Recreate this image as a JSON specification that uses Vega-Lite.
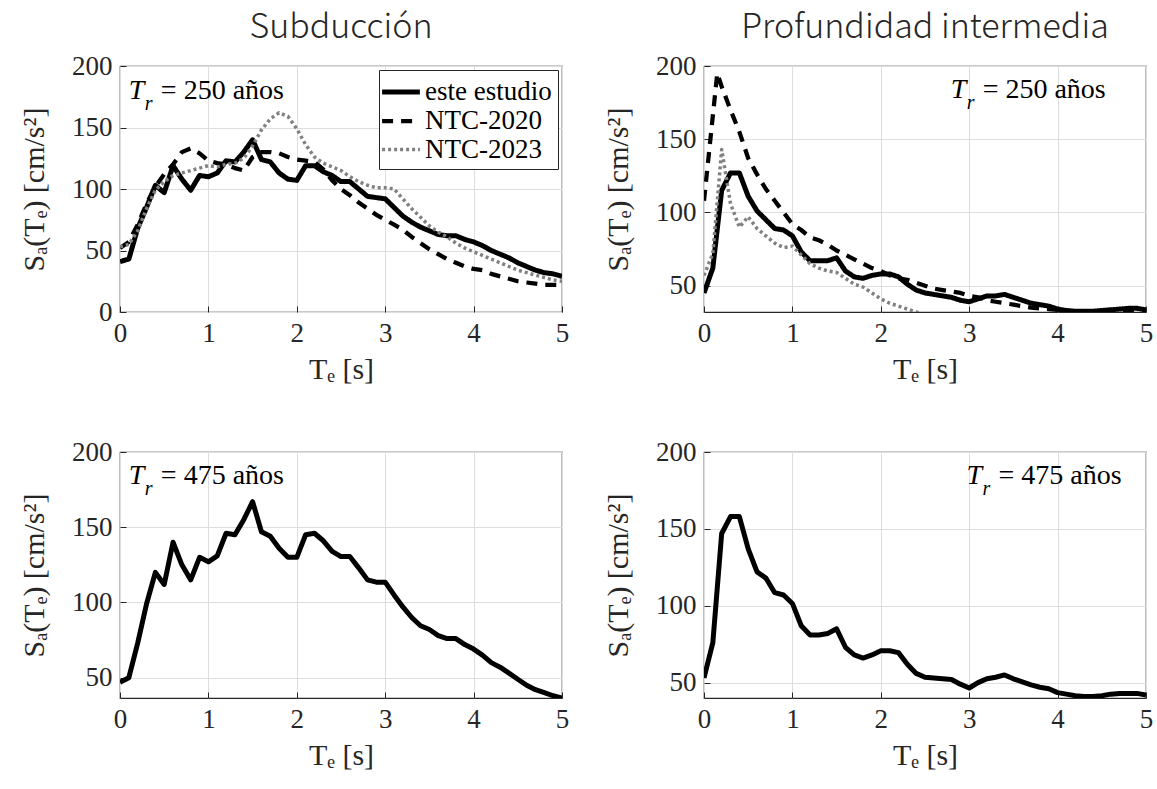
{
"$schema": "https://vega.github.io/schema/vega-lite/v6.json",
"background": "white",
"autosize": {"type": "pad"},
"padding": {"left": 18, "top": 10, "right": 5, "bottom": 5},
"columns": 2,
"spacing": {"row": 140, "column": 142},
"bounds": "flush",
"config": {
  "view": {"stroke": "#262626", "strokeWidth": 1.2},
  "axis": {
    "labelFont": "Liberation Serif", "labelFontSize": 27, "labelColor": "#262626",
    "titleFont": "Liberation Serif", "titleFontSize": 30, "titleColor": "#262626", "titleFontWeight": "normal",
    "grid": true, "gridColor": "#dedede", "gridWidth": 1,
    "domain": false, "ticks": true, "tickSize": -6, "tickColor": "#262626",
    "labelFlush": false, "labelOverlap": false
  },
  "axisX": {"labelPadding": 14, "titlePadding": 8},
  "axisY": {"labelPadding": 14, "titlePadding": 22},
  "title": {"font": "Noto Sans CJK JP", "fontSize": 34, "fontWeight": 300, "color": "#262626", "offset": 7}
},
"resolve": {
  "scale": {"color": "independent", "strokeDash": "independent", "strokeWidth": "independent"},
  "legend": {"color": "independent", "strokeDash": "independent", "strokeWidth": "independent"}
},
"datasets": {
  "notes": [
    {"panel": "sub250", "T": 0.1, "Sa": 173, "sym": "T", "sub": "r", "rest": "= 250 años"},
    {"panel": "int250", "T": 2.79, "Sa": 178, "sym": "T", "sub": "r", "rest": "= 250 años"},
    {"panel": "sub475", "T": 0.1, "Sa": 179, "sym": "T", "sub": "r", "rest": "= 475 años"},
    {"panel": "int475", "T": 2.97, "Sa": 179, "sym": "T", "sub": "r", "rest": "= 475 años"}
  ],
  "sub250": [
    {"serie":"este estudio","T":0,"Sa":41},{"serie":"este estudio","T":0.1,"Sa":43},{"serie":"este estudio","T":0.2,"Sa":68},{"serie":"este estudio","T":0.3,"Sa":85},{"serie":"este estudio","T":0.4,"Sa":103},{"serie":"este estudio","T":0.5,"Sa":97},{"serie":"este estudio","T":0.6,"Sa":119},{"serie":"este estudio","T":0.7,"Sa":108},{"serie":"este estudio","T":0.8,"Sa":99},{"serie":"este estudio","T":0.9,"Sa":111},
    {"serie":"este estudio","T":1.0,"Sa":110},{"serie":"este estudio","T":1.1,"Sa":113},{"serie":"este estudio","T":1.2,"Sa":123},{"serie":"este estudio","T":1.3,"Sa":122},{"serie":"este estudio","T":1.4,"Sa":130},{"serie":"este estudio","T":1.5,"Sa":140},{"serie":"este estudio","T":1.6,"Sa":124},{"serie":"este estudio","T":1.7,"Sa":122},{"serie":"este estudio","T":1.8,"Sa":113},{"serie":"este estudio","T":1.9,"Sa":108},
    {"serie":"este estudio","T":2.0,"Sa":107},{"serie":"este estudio","T":2.1,"Sa":119},{"serie":"este estudio","T":2.2,"Sa":119},{"serie":"este estudio","T":2.3,"Sa":114},{"serie":"este estudio","T":2.4,"Sa":111},{"serie":"este estudio","T":2.5,"Sa":106},{"serie":"este estudio","T":2.6,"Sa":106},{"serie":"este estudio","T":2.7,"Sa":100},{"serie":"este estudio","T":2.8,"Sa":94},{"serie":"este estudio","T":2.9,"Sa":93},
    {"serie":"este estudio","T":3.0,"Sa":92},{"serie":"este estudio","T":3.1,"Sa":85},{"serie":"este estudio","T":3.2,"Sa":78},{"serie":"este estudio","T":3.3,"Sa":73},{"serie":"este estudio","T":3.4,"Sa":69},{"serie":"este estudio","T":3.5,"Sa":66},{"serie":"este estudio","T":3.6,"Sa":63},{"serie":"este estudio","T":3.7,"Sa":62},{"serie":"este estudio","T":3.8,"Sa":62},{"serie":"este estudio","T":3.9,"Sa":59},
    {"serie":"este estudio","T":4.0,"Sa":57},{"serie":"este estudio","T":4.1,"Sa":54},{"serie":"este estudio","T":4.2,"Sa":50},{"serie":"este estudio","T":4.3,"Sa":47},{"serie":"este estudio","T":4.4,"Sa":44},{"serie":"este estudio","T":4.5,"Sa":40},{"serie":"este estudio","T":4.6,"Sa":37},{"serie":"este estudio","T":4.7,"Sa":34},{"serie":"este estudio","T":4.8,"Sa":32},{"serie":"este estudio","T":4.9,"Sa":31},{"serie":"este estudio","T":5.0,"Sa":29},
    {"serie":"NTC-2020","T":0,"Sa":52},{"serie":"NTC-2020","T":0.1,"Sa":57},{"serie":"NTC-2020","T":0.2,"Sa":71},{"serie":"NTC-2020","T":0.3,"Sa":88},{"serie":"NTC-2020","T":0.4,"Sa":102},{"serie":"NTC-2020","T":0.5,"Sa":112},{"serie":"NTC-2020","T":0.6,"Sa":120},{"serie":"NTC-2020","T":0.7,"Sa":130},{"serie":"NTC-2020","T":0.8,"Sa":133},{"serie":"NTC-2020","T":0.9,"Sa":129},
    {"serie":"NTC-2020","T":1.0,"Sa":123},{"serie":"NTC-2020","T":1.1,"Sa":121},{"serie":"NTC-2020","T":1.2,"Sa":120},{"serie":"NTC-2020","T":1.3,"Sa":117},{"serie":"NTC-2020","T":1.4,"Sa":115},{"serie":"NTC-2020","T":1.5,"Sa":126},{"serie":"NTC-2020","T":1.6,"Sa":130},{"serie":"NTC-2020","T":1.7,"Sa":130},{"serie":"NTC-2020","T":1.8,"Sa":129},{"serie":"NTC-2020","T":1.9,"Sa":126},
    {"serie":"NTC-2020","T":2.0,"Sa":124},{"serie":"NTC-2020","T":2.1,"Sa":123},{"serie":"NTC-2020","T":2.2,"Sa":122},{"serie":"NTC-2020","T":2.3,"Sa":116},{"serie":"NTC-2020","T":2.4,"Sa":107},{"serie":"NTC-2020","T":2.5,"Sa":100},{"serie":"NTC-2020","T":2.6,"Sa":95},{"serie":"NTC-2020","T":2.7,"Sa":89},{"serie":"NTC-2020","T":2.8,"Sa":84},{"serie":"NTC-2020","T":2.9,"Sa":79},
    {"serie":"NTC-2020","T":3.0,"Sa":75},{"serie":"NTC-2020","T":3.1,"Sa":71},{"serie":"NTC-2020","T":3.2,"Sa":67},{"serie":"NTC-2020","T":3.3,"Sa":61},{"serie":"NTC-2020","T":3.4,"Sa":56},{"serie":"NTC-2020","T":3.5,"Sa":51},{"serie":"NTC-2020","T":3.6,"Sa":47},{"serie":"NTC-2020","T":3.7,"Sa":43},{"serie":"NTC-2020","T":3.8,"Sa":40},{"serie":"NTC-2020","T":3.9,"Sa":37},
    {"serie":"NTC-2020","T":4.0,"Sa":35},{"serie":"NTC-2020","T":4.1,"Sa":34},{"serie":"NTC-2020","T":4.2,"Sa":31},{"serie":"NTC-2020","T":4.3,"Sa":29},{"serie":"NTC-2020","T":4.4,"Sa":27},{"serie":"NTC-2020","T":4.5,"Sa":25},{"serie":"NTC-2020","T":4.6,"Sa":24},{"serie":"NTC-2020","T":4.7,"Sa":23},{"serie":"NTC-2020","T":4.8,"Sa":22},{"serie":"NTC-2020","T":4.9,"Sa":22},{"serie":"NTC-2020","T":5.0,"Sa":22},
    {"serie":"NTC-2023","T":0,"Sa":53},{"serie":"NTC-2023","T":0.1,"Sa":55},{"serie":"NTC-2023","T":0.2,"Sa":66},{"serie":"NTC-2023","T":0.3,"Sa":84},{"serie":"NTC-2023","T":0.4,"Sa":99},{"serie":"NTC-2023","T":0.5,"Sa":106},{"serie":"NTC-2023","T":0.6,"Sa":111},{"serie":"NTC-2023","T":0.7,"Sa":113},{"serie":"NTC-2023","T":0.8,"Sa":115},{"serie":"NTC-2023","T":0.9,"Sa":117},
    {"serie":"NTC-2023","T":1.0,"Sa":119},{"serie":"NTC-2023","T":1.1,"Sa":118},{"serie":"NTC-2023","T":1.2,"Sa":120},{"serie":"NTC-2023","T":1.3,"Sa":121},{"serie":"NTC-2023","T":1.4,"Sa":125},{"serie":"NTC-2023","T":1.5,"Sa":135},{"serie":"NTC-2023","T":1.6,"Sa":148},{"serie":"NTC-2023","T":1.7,"Sa":157},{"serie":"NTC-2023","T":1.8,"Sa":162},{"serie":"NTC-2023","T":1.9,"Sa":159},
    {"serie":"NTC-2023","T":2.0,"Sa":149},{"serie":"NTC-2023","T":2.1,"Sa":136},{"serie":"NTC-2023","T":2.2,"Sa":126},{"serie":"NTC-2023","T":2.3,"Sa":121},{"serie":"NTC-2023","T":2.4,"Sa":118},{"serie":"NTC-2023","T":2.5,"Sa":115},{"serie":"NTC-2023","T":2.6,"Sa":110},{"serie":"NTC-2023","T":2.7,"Sa":106},{"serie":"NTC-2023","T":2.8,"Sa":103},{"serie":"NTC-2023","T":2.9,"Sa":101},
    {"serie":"NTC-2023","T":3.0,"Sa":101},{"serie":"NTC-2023","T":3.1,"Sa":100},{"serie":"NTC-2023","T":3.2,"Sa":92},{"serie":"NTC-2023","T":3.3,"Sa":84},{"serie":"NTC-2023","T":3.4,"Sa":77},{"serie":"NTC-2023","T":3.5,"Sa":70},{"serie":"NTC-2023","T":3.6,"Sa":65},{"serie":"NTC-2023","T":3.7,"Sa":61},{"serie":"NTC-2023","T":3.8,"Sa":56},{"serie":"NTC-2023","T":3.9,"Sa":52},
    {"serie":"NTC-2023","T":4.0,"Sa":49},{"serie":"NTC-2023","T":4.1,"Sa":46},{"serie":"NTC-2023","T":4.2,"Sa":43},{"serie":"NTC-2023","T":4.3,"Sa":40},{"serie":"NTC-2023","T":4.4,"Sa":37},{"serie":"NTC-2023","T":4.5,"Sa":34},{"serie":"NTC-2023","T":4.6,"Sa":32},{"serie":"NTC-2023","T":4.7,"Sa":30},{"serie":"NTC-2023","T":4.8,"Sa":28},{"serie":"NTC-2023","T":4.9,"Sa":26},{"serie":"NTC-2023","T":5.0,"Sa":25}
  ],
  "int250": [
    {"serie":"este estudio","T":0,"Sa":45},{"serie":"este estudio","T":0.1,"Sa":62},{"serie":"este estudio","T":0.2,"Sa":115},{"serie":"este estudio","T":0.3,"Sa":127},{"serie":"este estudio","T":0.4,"Sa":127},{"serie":"este estudio","T":0.5,"Sa":111},{"serie":"este estudio","T":0.6,"Sa":101},{"serie":"este estudio","T":0.7,"Sa":95},{"serie":"este estudio","T":0.8,"Sa":89},{"serie":"este estudio","T":0.9,"Sa":88},
    {"serie":"este estudio","T":1.0,"Sa":84},{"serie":"este estudio","T":1.1,"Sa":73},{"serie":"este estudio","T":1.2,"Sa":67},{"serie":"este estudio","T":1.3,"Sa":67},{"serie":"este estudio","T":1.4,"Sa":67},{"serie":"este estudio","T":1.5,"Sa":69},{"serie":"este estudio","T":1.6,"Sa":60},{"serie":"este estudio","T":1.7,"Sa":56},{"serie":"este estudio","T":1.8,"Sa":55},{"serie":"este estudio","T":1.9,"Sa":57},
    {"serie":"este estudio","T":2.0,"Sa":58},{"serie":"este estudio","T":2.1,"Sa":58},{"serie":"este estudio","T":2.2,"Sa":56},{"serie":"este estudio","T":2.3,"Sa":51},{"serie":"este estudio","T":2.4,"Sa":47},{"serie":"este estudio","T":2.5,"Sa":45},{"serie":"este estudio","T":2.6,"Sa":44},{"serie":"este estudio","T":2.7,"Sa":43},{"serie":"este estudio","T":2.8,"Sa":42},{"serie":"este estudio","T":2.9,"Sa":40},
    {"serie":"este estudio","T":3.0,"Sa":39},{"serie":"este estudio","T":3.1,"Sa":41},{"serie":"este estudio","T":3.2,"Sa":43},{"serie":"este estudio","T":3.3,"Sa":43},{"serie":"este estudio","T":3.4,"Sa":44},{"serie":"este estudio","T":3.5,"Sa":42},{"serie":"este estudio","T":3.6,"Sa":40},{"serie":"este estudio","T":3.7,"Sa":38},{"serie":"este estudio","T":3.8,"Sa":37},{"serie":"este estudio","T":3.9,"Sa":36},
    {"serie":"este estudio","T":4.0,"Sa":34},{"serie":"este estudio","T":4.1,"Sa":33},{"serie":"este estudio","T":4.2,"Sa":32.5},{"serie":"este estudio","T":4.3,"Sa":32.5},{"serie":"este estudio","T":4.4,"Sa":32.5},{"serie":"este estudio","T":4.5,"Sa":33},{"serie":"este estudio","T":4.6,"Sa":33.5},{"serie":"este estudio","T":4.7,"Sa":34},{"serie":"este estudio","T":4.8,"Sa":34.5},{"serie":"este estudio","T":4.9,"Sa":34.5},{"serie":"este estudio","T":5.0,"Sa":33.5},
    {"serie":"NTC-2020","T":0,"Sa":108},{"serie":"NTC-2020","T":0.1,"Sa":166},{"serie":"NTC-2020","T":0.15,"Sa":195},{"serie":"NTC-2020","T":0.2,"Sa":186},{"serie":"NTC-2020","T":0.3,"Sa":170},{"serie":"NTC-2020","T":0.4,"Sa":155},{"serie":"NTC-2020","T":0.5,"Sa":137},{"serie":"NTC-2020","T":0.6,"Sa":126},{"serie":"NTC-2020","T":0.7,"Sa":116},{"serie":"NTC-2020","T":0.8,"Sa":108},{"serie":"NTC-2020","T":0.9,"Sa":100},
    {"serie":"NTC-2020","T":1.0,"Sa":92},{"serie":"NTC-2020","T":1.1,"Sa":88},{"serie":"NTC-2020","T":1.2,"Sa":83},{"serie":"NTC-2020","T":1.3,"Sa":81},{"serie":"NTC-2020","T":1.4,"Sa":78},{"serie":"NTC-2020","T":1.5,"Sa":74},{"serie":"NTC-2020","T":1.6,"Sa":71},{"serie":"NTC-2020","T":1.7,"Sa":68},{"serie":"NTC-2020","T":1.8,"Sa":65},{"serie":"NTC-2020","T":1.9,"Sa":62},
    {"serie":"NTC-2020","T":2.0,"Sa":60},{"serie":"NTC-2020","T":2.1,"Sa":57},{"serie":"NTC-2020","T":2.2,"Sa":55},{"serie":"NTC-2020","T":2.3,"Sa":54},{"serie":"NTC-2020","T":2.4,"Sa":52},{"serie":"NTC-2020","T":2.5,"Sa":50},{"serie":"NTC-2020","T":2.6,"Sa":48},{"serie":"NTC-2020","T":2.7,"Sa":47},{"serie":"NTC-2020","T":2.8,"Sa":46},{"serie":"NTC-2020","T":2.9,"Sa":45},
    {"serie":"NTC-2020","T":3.0,"Sa":43},{"serie":"NTC-2020","T":3.1,"Sa":42},{"serie":"NTC-2020","T":3.2,"Sa":40},{"serie":"NTC-2020","T":3.3,"Sa":39},{"serie":"NTC-2020","T":3.4,"Sa":38},{"serie":"NTC-2020","T":3.5,"Sa":37},{"serie":"NTC-2020","T":3.6,"Sa":36},{"serie":"NTC-2020","T":3.7,"Sa":35},{"serie":"NTC-2020","T":3.8,"Sa":34.5},{"serie":"NTC-2020","T":3.9,"Sa":34},
    {"serie":"NTC-2020","T":4.0,"Sa":33.5},{"serie":"NTC-2020","T":4.1,"Sa":33},{"serie":"NTC-2020","T":4.2,"Sa":32.5},{"serie":"NTC-2020","T":4.3,"Sa":32},{"serie":"NTC-2020","T":4.4,"Sa":32},{"serie":"NTC-2020","T":4.5,"Sa":32},{"serie":"NTC-2020","T":4.6,"Sa":32},{"serie":"NTC-2020","T":4.7,"Sa":32},{"serie":"NTC-2020","T":4.8,"Sa":32},{"serie":"NTC-2020","T":4.9,"Sa":32},{"serie":"NTC-2020","T":5.0,"Sa":32},
    {"serie":"NTC-2023","T":0,"Sa":57},{"serie":"NTC-2023","T":0.1,"Sa":72},{"serie":"NTC-2023","T":0.2,"Sa":143},{"serie":"NTC-2023","T":0.3,"Sa":106},{"serie":"NTC-2023","T":0.4,"Sa":90},{"serie":"NTC-2023","T":0.5,"Sa":97},{"serie":"NTC-2023","T":0.6,"Sa":89},{"serie":"NTC-2023","T":0.7,"Sa":84},{"serie":"NTC-2023","T":0.8,"Sa":79},{"serie":"NTC-2023","T":0.9,"Sa":76},
    {"serie":"NTC-2023","T":1.0,"Sa":77},{"serie":"NTC-2023","T":1.1,"Sa":71},{"serie":"NTC-2023","T":1.2,"Sa":65},{"serie":"NTC-2023","T":1.3,"Sa":62},{"serie":"NTC-2023","T":1.4,"Sa":60},{"serie":"NTC-2023","T":1.5,"Sa":59},{"serie":"NTC-2023","T":1.6,"Sa":55},{"serie":"NTC-2023","T":1.7,"Sa":51},{"serie":"NTC-2023","T":1.8,"Sa":49},{"serie":"NTC-2023","T":1.9,"Sa":45},
    {"serie":"NTC-2023","T":2.0,"Sa":41},{"serie":"NTC-2023","T":2.1,"Sa":38},{"serie":"NTC-2023","T":2.2,"Sa":36},{"serie":"NTC-2023","T":2.3,"Sa":34},{"serie":"NTC-2023","T":2.4,"Sa":32},{"serie":"NTC-2023","T":2.5,"Sa":30}
  ],
  "sub475": [
    {"T":0,"Sa":47},{"T":0.1,"Sa":50},{"T":0.2,"Sa":73},{"T":0.3,"Sa":99},{"T":0.4,"Sa":120},{"T":0.5,"Sa":112},{"T":0.6,"Sa":140},{"T":0.7,"Sa":125},{"T":0.8,"Sa":115},{"T":0.9,"Sa":130},
    {"T":1.0,"Sa":127},{"T":1.1,"Sa":131},{"T":1.2,"Sa":146},{"T":1.3,"Sa":145},{"T":1.4,"Sa":155},{"T":1.5,"Sa":167},{"T":1.6,"Sa":147},{"T":1.7,"Sa":144},{"T":1.8,"Sa":136},{"T":1.9,"Sa":130},
    {"T":2.0,"Sa":130},{"T":2.1,"Sa":145},{"T":2.2,"Sa":146},{"T":2.3,"Sa":141},{"T":2.4,"Sa":134},{"T":2.5,"Sa":130.5},{"T":2.6,"Sa":130.5},{"T":2.7,"Sa":123},{"T":2.8,"Sa":115},{"T":2.9,"Sa":113.5},
    {"T":3.0,"Sa":113.5},{"T":3.1,"Sa":105},{"T":3.2,"Sa":97},{"T":3.3,"Sa":90},{"T":3.4,"Sa":84.5},{"T":3.5,"Sa":82},{"T":3.6,"Sa":78},{"T":3.7,"Sa":76},{"T":3.8,"Sa":76},{"T":3.9,"Sa":72},
    {"T":4.0,"Sa":69},{"T":4.1,"Sa":65},{"T":4.2,"Sa":60},{"T":4.3,"Sa":57},{"T":4.4,"Sa":53},{"T":4.5,"Sa":49},{"T":4.6,"Sa":45},{"T":4.7,"Sa":42},{"T":4.8,"Sa":40},{"T":4.9,"Sa":38},{"T":5.0,"Sa":36.5}
  ],
  "int475": [
    {"T":0,"Sa":53},{"T":0.1,"Sa":76},{"T":0.2,"Sa":147},{"T":0.3,"Sa":158},{"T":0.4,"Sa":158},{"T":0.5,"Sa":137},{"T":0.6,"Sa":122},{"T":0.7,"Sa":118},{"T":0.8,"Sa":108.5},{"T":0.9,"Sa":107},
    {"T":1.0,"Sa":101.5},{"T":1.1,"Sa":87},{"T":1.2,"Sa":81},{"T":1.3,"Sa":81},{"T":1.4,"Sa":82},{"T":1.5,"Sa":85},{"T":1.6,"Sa":73},{"T":1.7,"Sa":68},{"T":1.8,"Sa":66},{"T":1.9,"Sa":68},
    {"T":2.0,"Sa":70.7},{"T":2.1,"Sa":70.7},{"T":2.2,"Sa":69.5},{"T":2.3,"Sa":62},{"T":2.4,"Sa":56},{"T":2.5,"Sa":53.5},{"T":2.6,"Sa":53},{"T":2.7,"Sa":52.5},{"T":2.8,"Sa":52},{"T":2.9,"Sa":49},
    {"T":3.0,"Sa":46.5},{"T":3.1,"Sa":50},{"T":3.2,"Sa":52.5},{"T":3.3,"Sa":53.5},{"T":3.4,"Sa":55},{"T":3.5,"Sa":52.5},{"T":3.6,"Sa":50.5},{"T":3.7,"Sa":48.5},{"T":3.8,"Sa":47},{"T":3.9,"Sa":46},
    {"T":4.0,"Sa":43.5},{"T":4.1,"Sa":42.5},{"T":4.2,"Sa":41.5},{"T":4.3,"Sa":41},{"T":4.4,"Sa":41},{"T":4.5,"Sa":41.5},{"T":4.6,"Sa":42.5},{"T":4.7,"Sa":43},{"T":4.8,"Sa":43},{"T":4.9,"Sa":43},{"T":5.0,"Sa":42}
  ]
},
"concat": [
  {
    "width": 442, "height": 246,
    "title": {"text": "Subducción"},
    "encoding": {
      "x": {"field": "T", "type": "quantitative", "scale": {"domain": [0, 5], "nice": false}, "axis": {"values": [0, 1, 2, 3, 4, 5], "title": "Tₑ [s]"}},
      "y": {"field": "Sa", "type": "quantitative", "scale": {"domain": [0, 200], "nice": false, "zero": false}, "axis": {"values": [0, 50, 100, 150, 200], "title": "Sₐ(Tₑ) [cm/s²]"}}
    },
    "layer": [
      {
        "data": {"name": "sub250"},
        "mark": {"type": "line", "clip": true, "strokeJoin": "round"},
        "encoding": {
          "color": {"field": "serie", "type": "nominal", "scale": {"domain": ["este estudio", "NTC-2020", "NTC-2023"], "range": ["black", "black", "#808080"]},
            "legend": {"title": null, "orient": "top-right", "offset": 4, "symbolType": "M-1.4,0H1.4", "symbolSize": 729, "labelFont": "Liberation Serif", "labelFontSize": 27, "labelColor": "black", "strokeColor": "#262626", "fillColor": "white", "padding": 6, "rowPadding": 0, "labelOffset": 8, "labelLimit": 400}},
          "strokeDash": {"field": "serie", "type": "nominal", "scale": {"domain": ["este estudio", "NTC-2020", "NTC-2023"], "range": [[1, 0], [11, 8], [3, 3]]}},
          "strokeWidth": {"field": "serie", "type": "nominal", "scale": {"domain": ["este estudio", "NTC-2020", "NTC-2023"], "range": [5, 3.5, 3.5]}}
        }
      },
      {
        "data": {"name": "notes"},
        "transform": [{"filter": "datum.panel === 'sub250'"}],
        "layer": [
          {"mark": {"type": "text", "align": "left", "baseline": "alphabetic", "font": "Liberation Serif", "fontSize": 28, "fontStyle": "italic", "color": "black"}, "encoding": {"text": {"field": "sym"}}},
          {"mark": {"type": "text", "align": "left", "baseline": "alphabetic", "font": "Liberation Serif", "fontSize": 20, "fontStyle": "italic", "color": "black", "dx": 16, "dy": 11}, "encoding": {"text": {"field": "sub"}}},
          {"mark": {"type": "text", "align": "left", "baseline": "alphabetic", "font": "Liberation Serif", "fontSize": 28, "color": "black", "dx": 32}, "encoding": {"text": {"field": "rest"}}}
        ]
      }
    ]
  },
  {
    "width": 442, "height": 246,
    "title": {"text": "Profundidad intermedia"},
    "encoding": {
      "x": {"field": "T", "type": "quantitative", "scale": {"domain": [0, 5], "nice": false}, "axis": {"values": [0, 1, 2, 3, 4, 5], "title": "Tₑ [s]"}},
      "y": {"field": "Sa", "type": "quantitative", "scale": {"domain": [32, 200], "nice": false, "zero": false}, "axis": {"values": [50, 100, 150, 200], "title": "Sₐ(Tₑ) [cm/s²]"}}
    },
    "layer": [
      {
        "data": {"name": "int250"},
        "mark": {"type": "line", "clip": true, "strokeJoin": "round"},
        "encoding": {
          "color": {"field": "serie", "type": "nominal", "scale": {"domain": ["este estudio", "NTC-2020", "NTC-2023"], "range": ["black", "black", "#808080"]}, "legend": null},
          "strokeDash": {"field": "serie", "type": "nominal", "scale": {"domain": ["este estudio", "NTC-2020", "NTC-2023"], "range": [[1, 0], [11, 8], [3, 3]]}, "legend": null},
          "strokeWidth": {"field": "serie", "type": "nominal", "scale": {"domain": ["este estudio", "NTC-2020", "NTC-2023"], "range": [5, 3.5, 3.5]}, "legend": null}
        }
      },
      {
        "data": {"name": "notes"},
        "transform": [{"filter": "datum.panel === 'int250'"}],
        "layer": [
          {"mark": {"type": "text", "align": "left", "baseline": "alphabetic", "font": "Liberation Serif", "fontSize": 28, "fontStyle": "italic", "color": "black"}, "encoding": {"text": {"field": "sym"}}},
          {"mark": {"type": "text", "align": "left", "baseline": "alphabetic", "font": "Liberation Serif", "fontSize": 20, "fontStyle": "italic", "color": "black", "dx": 16, "dy": 11}, "encoding": {"text": {"field": "sub"}}},
          {"mark": {"type": "text", "align": "left", "baseline": "alphabetic", "font": "Liberation Serif", "fontSize": 28, "color": "black", "dx": 32}, "encoding": {"text": {"field": "rest"}}}
        ]
      }
    ]
  },
  {
    "width": 442, "height": 246,
    "encoding": {
      "x": {"field": "T", "type": "quantitative", "scale": {"domain": [0, 5], "nice": false}, "axis": {"values": [0, 1, 2, 3, 4, 5], "title": "Tₑ [s]"}},
      "y": {"field": "Sa", "type": "quantitative", "scale": {"domain": [36.5, 200], "nice": false, "zero": false}, "axis": {"values": [50, 100, 150, 200], "title": "Sₐ(Tₑ) [cm/s²]"}}
    },
    "layer": [
      {"data": {"name": "sub475"}, "mark": {"type": "line", "clip": true, "color": "black", "strokeWidth": 5, "strokeJoin": "round"}},
      {
        "data": {"name": "notes"},
        "transform": [{"filter": "datum.panel === 'sub475'"}],
        "layer": [
          {"mark": {"type": "text", "align": "left", "baseline": "alphabetic", "font": "Liberation Serif", "fontSize": 28, "fontStyle": "italic", "color": "black"}, "encoding": {"text": {"field": "sym"}}},
          {"mark": {"type": "text", "align": "left", "baseline": "alphabetic", "font": "Liberation Serif", "fontSize": 20, "fontStyle": "italic", "color": "black", "dx": 16, "dy": 11}, "encoding": {"text": {"field": "sub"}}},
          {"mark": {"type": "text", "align": "left", "baseline": "alphabetic", "font": "Liberation Serif", "fontSize": 28, "color": "black", "dx": 32}, "encoding": {"text": {"field": "rest"}}}
        ]
      }
    ]
  },
  {
    "width": 442, "height": 246,
    "encoding": {
      "x": {"field": "T", "type": "quantitative", "scale": {"domain": [0, 5], "nice": false}, "axis": {"values": [0, 1, 2, 3, 4, 5], "title": "Tₑ [s]"}},
      "y": {"field": "Sa", "type": "quantitative", "scale": {"domain": [40, 200], "nice": false, "zero": false}, "axis": {"values": [50, 100, 150, 200], "title": "Sₐ(Tₑ) [cm/s²]"}}
    },
    "layer": [
      {"data": {"name": "int475"}, "mark": {"type": "line", "clip": true, "color": "black", "strokeWidth": 5, "strokeJoin": "round"}},
      {
        "data": {"name": "notes"},
        "transform": [{"filter": "datum.panel === 'int475'"}],
        "layer": [
          {"mark": {"type": "text", "align": "left", "baseline": "alphabetic", "font": "Liberation Serif", "fontSize": 28, "fontStyle": "italic", "color": "black"}, "encoding": {"text": {"field": "sym"}}},
          {"mark": {"type": "text", "align": "left", "baseline": "alphabetic", "font": "Liberation Serif", "fontSize": 20, "fontStyle": "italic", "color": "black", "dx": 16, "dy": 11}, "encoding": {"text": {"field": "sub"}}},
          {"mark": {"type": "text", "align": "left", "baseline": "alphabetic", "font": "Liberation Serif", "fontSize": 28, "color": "black", "dx": 32}, "encoding": {"text": {"field": "rest"}}}
        ]
      }
    ]
  }
]
}
